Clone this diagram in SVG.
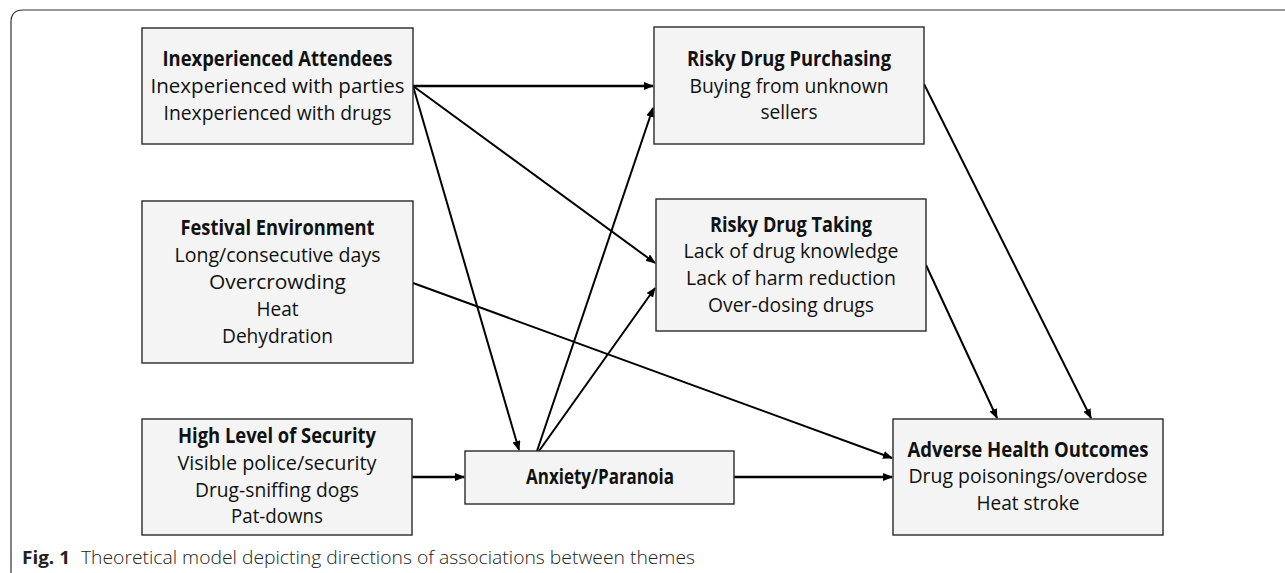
<svg xmlns="http://www.w3.org/2000/svg" width="1285" height="573" viewBox="0 0 1285 573">
<style>
.box{fill:#f3f4f3;stroke:#2a2a2a;stroke-width:1.4}
.t{font-family:"Open Sans","Noto Sans",sans-serif;font-size:20.5px;fill:#111;text-anchor:middle}
.b{font-weight:bold}
.c{stroke:#000;stroke-width:2;fill:none;marker-end:url(#ah)}
.h{stroke-width:2.6}
.cap{font-family:"Open Sans","Noto Sans",sans-serif;font-size:18px;fill:#222}
</style>
<defs>
<marker id="ah" markerWidth="10" markerHeight="8" refX="9" refY="4" orient="auto" markerUnits="userSpaceOnUse">
<path d="M0,0 L10,4 L0,8 z" fill="#000"/>
</marker>
</defs>
<rect width="1285" height="573" fill="#fff"/>
<path d="M11,573 L11,22 Q11,10 23,10 L1285,10" fill="none" stroke="#333" stroke-width="1.2"/>

<g id="connectors">
<line class="c h" x1="413" y1="86" x2="653" y2="86"/>
<line class="c" x1="413" y1="86" x2="655" y2="263"/>
<line class="c" x1="413" y1="86" x2="519" y2="450"/>
<line class="c" x1="413" y1="283" x2="892" y2="458"/>
<line class="c h" x1="412" y1="477" x2="464" y2="477"/>
<line class="c" x1="537" y1="451" x2="653" y2="108"/>
<line class="c" x1="539" y1="451" x2="655" y2="288"/>
<line class="c h" x1="734" y1="477" x2="892" y2="477"/>
<line class="c" x1="924" y1="84" x2="1091" y2="418"/>
<line class="c" x1="926" y1="265" x2="997" y2="418"/>
</g>

<g id="inexperienced">
<rect class="box" x="142" y="28" width="271" height="116"/>
<text class="t b" x="277.5" y="66" textLength="230" lengthAdjust="spacingAndGlyphs">Inexperienced Attendees</text>
<text class="t" x="277.5" y="93" textLength="254" lengthAdjust="spacingAndGlyphs">Inexperienced with parties</text>
<text class="t" x="277.5" y="120" textLength="228" lengthAdjust="spacingAndGlyphs">Inexperienced with drugs</text>
</g>

<g id="purchasing">
<rect class="box" x="654" y="27" width="270" height="117"/>
<text class="t b" x="789" y="66" textLength="204" lengthAdjust="spacingAndGlyphs">Risky Drug Purchasing</text>
<text class="t" x="789" y="93" textLength="199" lengthAdjust="spacingAndGlyphs">Buying from unknown</text>
<text class="t" x="789" y="119" textLength="57" lengthAdjust="spacingAndGlyphs">sellers</text>
</g>

<g id="festival">
<rect class="box" x="142" y="201" width="271" height="162"/>
<text class="t b" x="277.5" y="235" textLength="194" lengthAdjust="spacingAndGlyphs">Festival Environment</text>
<text class="t" x="277.5" y="262" textLength="206" lengthAdjust="spacingAndGlyphs">Long/consecutive days</text>
<text class="t" x="277.5" y="289" textLength="137" lengthAdjust="spacingAndGlyphs">Overcrowding</text>
<text class="t" x="277.5" y="316" textLength="42" lengthAdjust="spacingAndGlyphs">Heat</text>
<text class="t" x="277.5" y="343" textLength="111" lengthAdjust="spacingAndGlyphs">Dehydration</text>
</g>

<g id="taking">
<rect class="box" x="656" y="199" width="270" height="132"/>
<text class="t b" x="791" y="232" textLength="162" lengthAdjust="spacingAndGlyphs">Risky Drug Taking</text>
<text class="t" x="791" y="258" textLength="215" lengthAdjust="spacingAndGlyphs">Lack of drug knowledge</text>
<text class="t" x="791" y="285" textLength="210" lengthAdjust="spacingAndGlyphs">Lack of harm reduction</text>
<text class="t" x="791" y="312" textLength="166" lengthAdjust="spacingAndGlyphs">Over-dosing drugs</text>
</g>

<g id="security">
<rect class="box" x="142" y="419" width="270" height="116"/>
<text class="t b" x="277" y="443" textLength="198" lengthAdjust="spacingAndGlyphs">High Level of Security</text>
<text class="t" x="277" y="470" textLength="199" lengthAdjust="spacingAndGlyphs">Visible police/security</text>
<text class="t" x="277" y="497" textLength="164" lengthAdjust="spacingAndGlyphs">Drug-sniffing dogs</text>
<text class="t" x="277" y="523" textLength="92" lengthAdjust="spacingAndGlyphs">Pat-downs</text>
</g>

<g id="anxiety">
<rect class="box" x="465" y="451" width="269" height="53"/>
<text class="t b" x="600" y="484" textLength="148" lengthAdjust="spacingAndGlyphs">Anxiety/Paranoia</text>
</g>

<g id="adverse">
<rect class="box" x="893" y="419" width="270" height="116"/>
<text class="t b" x="1028" y="457" textLength="241" lengthAdjust="spacingAndGlyphs">Adverse Health Outcomes</text>
<text class="t" x="1028" y="483" textLength="239" lengthAdjust="spacingAndGlyphs">Drug poisonings/overdose</text>
<text class="t" x="1028" y="510" textLength="103" lengthAdjust="spacingAndGlyphs">Heat stroke</text>
</g>

<g id="caption">
<text class="cap" x="22" y="564" font-weight="bold" textLength="48" lengthAdjust="spacingAndGlyphs">Fig. 1</text>
<text class="cap" x="81" y="564" font-weight="300" textLength="614" lengthAdjust="spacingAndGlyphs">Theoretical model depicting directions of associations between themes</text>
</g>
</svg>
